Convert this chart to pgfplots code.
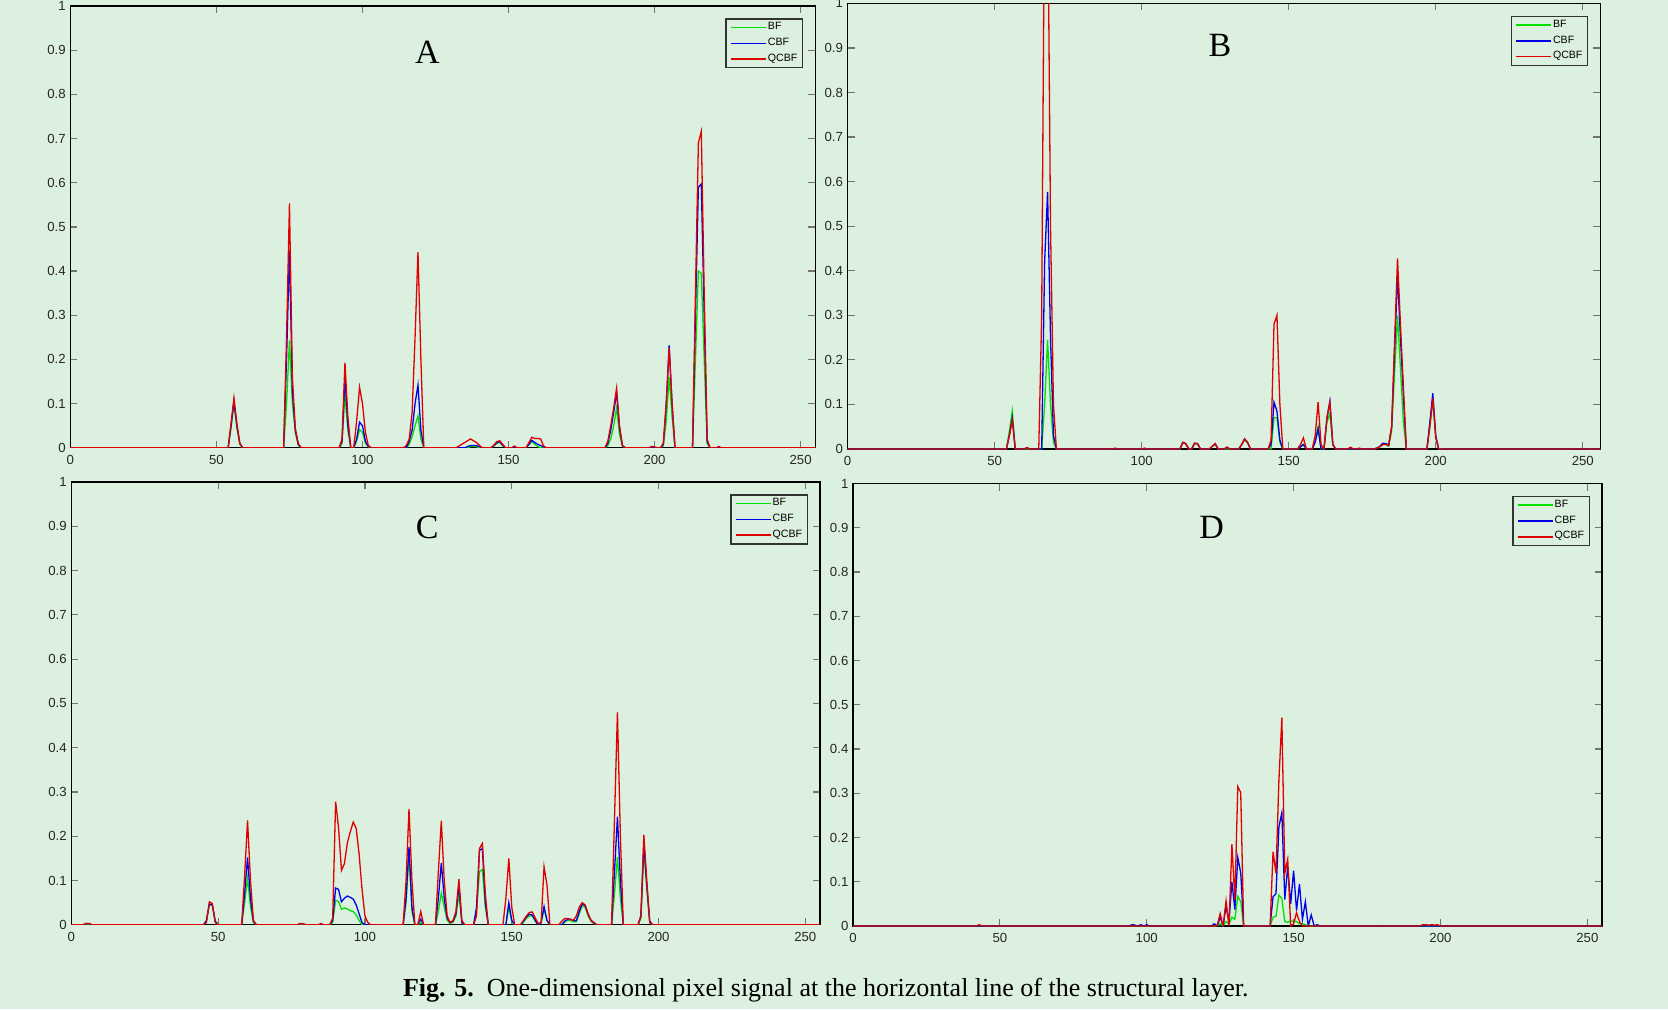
\documentclass[border=0pt]{standalone}
\usepackage{pgfplots}
\pgfplotsset{compat=1.18}
\usepackage{fontspec}
\setmainfont{Liberation Serif}
\newfontfamily\sansf{Liberation Sans}
\definecolor{bg}{RGB}{220,240,224}
\definecolor{cG}{RGB}{0,225,0}
\definecolor{cB}{RGB}{0,0,235}
\definecolor{cR}{RGB}{225,0,0}
\pgfplotsset{
  panel/.style={
    scale only axis, anchor=south west,
    xmin=0, xmax=255, ymin=0, ymax=1,
    xtick={0,50,100,150,200,250},
    ytick={0,0.1,0.2,0.3,0.4,0.5,0.6,0.7,0.8,0.9,1},
    yticklabels={0,0.1,0.2,0.3,0.4,0.5,0.6,0.7,0.8,0.9,1},
    tick align=inside, major tick length=3.5pt,
    tick style={draw=black!55, line width=0.6pt},
    axis line style={black, line width=0.6pt},
    tick label style={font=\sansf\fontsize{6.6}{7}\selectfont, text=black!85},
    yticklabel style={xshift=1.2pt},
    /pgf/number format/assume math mode=true,
    legend cell align=left,
    legend style={at={(rel axis cs:0.984,0.972)}, anchor=north east,
      draw=black!80, line width=0.7pt, fill=none,
      font=\sansf\fontsize{5.3}{5.3}\selectfont,
      inner xsep=2pt, inner ysep=1.1pt, row sep=1.5pt,
      nodes={inner sep=0.6pt}},
    legend image code/.code={\draw[##1, line width=0.8pt] (0pt,0pt) -- (17.5pt,0pt);},
    every axis plot/.append style={line width=0.65pt, mark=none},
  },
  gl/.style={cG}, bl/.style={cB}, rl/.style={cR},
}
\begin{document}
\begin{tikzpicture}
\fill[bg] (0,0) rectangle (834pt,504.5pt);
\useasboundingbox (0,0) rectangle (834pt,504.5pt);

% ---------------- A ----------------
\begin{axis}[panel, at={(35.2pt,280.6pt)}, width=372.4pt, height=220.9pt]
\addplot[gl] coordinates {(0,0)(54,0)(55,0.045)(56,0.1)(57,0.045)(58,0.008)(59,0)
(73,0)(74,0.1)(75,0.243)(76,0.1)(77,0.035)(78,0.006)(79,0)
(92,0)(93,0.01)(94,0.12)(95,0.04)(96,0)
(97,0)(98,0.015)(99,0.041)(100,0.035)(101,0.01)(102,0.002)(103,0)
(115,0)(116,0.008)(117,0.025)(118,0.05)(119,0.072)(120,0.02)(121,0)
(136,0)(137,0.003)(138,0.004)(139,0.003)(140,0)
(144,0)(145,0.004)(146,0.01)(147,0.012)(148,0.005)(149,0)
(156,0)(157,0.007)(158,0.015)(159,0.008)(160,0.003)(161,0)
(183,0)(184,0.005)(185,0.02)(186,0.05)(187,0.09)(188,0.03)(189,0.004)(190,0)
(202,0)(203,0.005)(204,0.06)(205,0.16)(206,0.07)(207,0)
(213,0)(214,0.2)(215,0.40)(216,0.395)(217,0.2)(218,0.01)(219,0)
(255,0)};
\addplot[bl] coordinates {(0,0)(54,0)(55,0.05)(56,0.105)(57,0.05)(58,0.01)(59,0)
(73,0)(74,0.2)(75,0.447)(76,0.13)(77,0.04)(78,0.008)(79,0)
(92,0)(93,0.015)(94,0.16)(95,0.05)(96,0)
(97,0)(98,0.02)(99,0.058)(100,0.05)(101,0.015)(102,0.003)(103,0)
(115,0)(116,0.015)(117,0.04)(118,0.1)(119,0.142)(120,0.04)(121,0)
(135,0)(136,0.003)(137,0.005)(138,0.005)(139,0.005)(140,0.003)(141,0)
(144,0)(145,0.005)(146,0.012)(147,0.014)(148,0.006)(149,0)
(156,0)(157,0.008)(158,0.017)(159,0.012)(160,0.008)(161,0.005)(162,0.002)(163,0)
(183,0)(184,0.01)(185,0.04)(186,0.08)(187,0.125)(188,0.045)(189,0.005)(190,0)
(202,0)(203,0.008)(204,0.1)(205,0.232)(206,0.1)(207,0)
(213,0)(214,0.3)(215,0.59)(216,0.597)(217,0.3)(218,0.015)(219,0)
(255,0)};
\addplot[rl] coordinates {(0,0)(54,0)(55,0.055)(56,0.113)(57,0.055)(58,0.01)(59,0)
(73,0)(74,0.25)(75,0.553)(76,0.16)(77,0.045)(78,0.01)(79,0)
(92,0)(93,0.02)(94,0.193)(95,0.07)(96,0)
(97,0)(98,0.06)(99,0.137)(100,0.1)(101,0.035)(102,0.005)(103,0)
(114,0)(115,0.005)(116,0.02)(117,0.08)(118,0.25)(119,0.443)(120,0.2)(121,0)
(132,0)(133,0.004)(134,0.008)(135,0.012)(136,0.016)(137,0.02)(138,0.016)(139,0.012)(140,0.006)(141,0)
(144,0)(145,0.006)(146,0.014)(147,0.016)(148,0.008)(149,0)
(151,0)(152,0.004)(153,0)
(156,0)(157,0.012)(158,0.024)(159,0.021)(160,0.021)(161,0.02)(162,0.004)(163,0)
(183,0)(184,0.015)(185,0.05)(186,0.09)(187,0.135)(188,0.05)(189,0.005)(190,0)
(198,0)(199,0.003)(200,0.002)(201,0)
(202,0)(203,0.01)(204,0.1)(205,0.225)(206,0.1)(207,0)
(213,0)(214,0.35)(215,0.69)(216,0.716)(217,0.35)(218,0.02)(219,0)
(221,0)(222,0.003)(223,0)
(255,0)};
\legend{BF,CBF,QCBF}
\node[font=\fontsize{17}{17}\selectfont] at (axis cs:122.2,0.895) {A};
\end{axis}

% ---------------- B ----------------
\begin{axis}[panel, at={(423.8pt,280.0pt)}, width=376.4pt, height=222.8pt, xmax=256]
\addplot[gl] coordinates {(0,0)(54,0)(55,0.04)(56,0.085)(57,0)
(66,0)(67,0.1)(68,0.245)(69,0.1)(70,0.015)(71,0)
(113,0)(114,0.014)(115,0.011)(116,0)
(117,0)(118,0.012)(119,0.011)(120,0)
(123,0)(124,0.006)(125,0.011)(126,0)
(133,0)(134,0.01)(135,0.02)(136,0.014)(137,0)
(144,0)(145,0.07)(146,0.07)(147,0.015)(148,0)
(153,0)(154,0.005)(155,0.01)(156,0)
(158,0)(159,0.02)(160,0.05)(161,0)
(162,0)(163,0.06)(164,0.08)(165,0.01)(166,0)
(179,0)(180,0.002)(181,0.005)(182,0.01)(183,0.01)(184,0.006)(185,0.04)(186,0.17)(187,0.30)(188,0.18)(189,0.06)(190,0)
(197,0)(198,0.05)(199,0.11)(200,0.025)(201,0)
(256,0)};
\addplot[bl] coordinates {(0,0)(54,0)(55,0.03)(56,0.07)(57,0)
(60,0)(61,0.003)(62,0)
(66,0)(67,0.42)(68,0.577)(69,0.25)(70,0.03)(71,0)
(113,0)(114,0.015)(115,0.012)(116,0)
(117,0)(118,0.013)(119,0.012)(120,0)
(123,0)(124,0.006)(125,0.012)(126,0)
(128,0)(129,0.004)(130,0)
(133,0)(134,0.01)(135,0.023)(136,0.015)(137,0)
(143,0)(144,0.01)(145,0.105)(146,0.085)(147,0.02)(148,0)
(153,0)(154,0.005)(155,0.01)(156,0)
(158,0)(159,0.015)(160,0.045)(161,0)
(162,0)(163,0.07)(164,0.107)(165,0.01)(166,0)
(179,0)(180,0.002)(181,0.006)(182,0.013)(183,0.012)(184,0.01)(185,0.05)(186,0.22)(187,0.39)(188,0.25)(189,0.12)(190,0)
(197,0)(198,0.06)(199,0.125)(200,0.03)(201,0)
(256,0)};
\addplot[rl] coordinates {(0,0)(54,0)(55,0.03)(56,0.065)(57,0)
(60,0)(61,0.003)(62,0)
(65,0)(66,0.3)(67,1.3)(68,1.3)(69,0.5)(70,0.1)(71,0)
(90,0)(91,0.002)(92,0)
(100,0)(101,0.002)(102,0)
(113,0)(114,0.015)(115,0.012)(116,0)
(117,0)(118,0.013)(119,0.012)(120,0)
(123,0)(124,0.006)(125,0.012)(126,0)
(128,0)(129,0.004)(130,0)
(133,0)(134,0.01)(135,0.022)(136,0.015)(137,0)
(143,0)(144,0.02)(145,0.28)(146,0.30)(147,0.1)(148,0)
(153,0)(154,0.01)(155,0.025)(156,0)
(158,0)(159,0.03)(160,0.105)(161,0.01)(162,0)
(163,0.07)(164,0.105)(165,0.01)(166,0)
(170,0)(171,0.004)(172,0)
(173,0)(174,0.002)(175,0)
(179,0)(180,0.002)(181,0.005)(182,0.01)(183,0.01)(184,0.008)(185,0.05)(186,0.24)(187,0.428)(188,0.28)(189,0.14)(190,0)
(197,0)(198,0.05)(199,0.115)(200,0.025)(201,0)
(256,0)};
\legend{BF,CBF,QCBF}
\node[font=\fontsize{17}{17}\selectfont] at (axis cs:126.6,0.906) {B};
\end{axis}

% ---------------- C ----------------
\begin{axis}[panel, at={(35.7pt,42.1pt)}, width=374.3pt, height=221.4pt]
\addplot[gl] coordinates {(0,0)(4,0)(5,0.002)(6,0.002)(7,0)
(45,0)(46,0.01)(47,0.045)(48,0.044)(49,0.008)(50,0)
(58,0)(59,0.05)(60,0.105)(61,0.04)(62,0.005)(63,0)
(88,0)(89,0.005)(90,0.055)(91,0.053)(92,0.035)(93,0.038)(94,0.036)(95,0.032)(96,0.03)(97,0.022)(98,0.01)(99,0)
(113,0)(114,0.05)(115,0.16)(116,0.03)(117,0)
(118,0)(119,0.005)(120,0)
(124,0)(125,0.03)(126,0.072)(127,0.04)(128,0.01)(129,0.003)(130,0.006)(131,0.02)(132,0.07)(133,0.005)(134,0)
(137,0)(138,0.03)(139,0.12)(140,0.125)(141,0.04)(142,0)
(148,0)(149,0.04)(150,0.008)(151,0)
(153,0)(154,0.006)(155,0.015)(156,0.02)(157,0.02)(158,0.008)(159,0)(160,0.005)(161,0.035)(162,0.01)(163,0)
(167,0)(168,0.006)(169,0.01)(170,0.01)(171,0.007)(172,0.007)(173,0.025)(174,0.043)(175,0.04)(176,0.02)(177,0.008)(178,0.003)(179,0)
(184,0)(185,0.07)(186,0.153)(187,0.06)(188,0)
(193,0)(194,0.015)(195,0.17)(196,0.08)(197,0.005)(198,0)
(255,0)};
\addplot[bl] coordinates {(0,0)(4,0)(5,0.003)(6,0.003)(7,0)
(45,0)(46,0.01)(47,0.047)(48,0.045)(49,0.008)(50,0)
(58,0)(59,0.07)(60,0.152)(61,0.06)(62,0.008)(63,0)
(77,0)(78,0.003)(79,0.002)(80,0)
(88,0)(89,0.01)(90,0.083)(91,0.08)(92,0.052)(93,0.06)(94,0.065)(95,0.062)(96,0.058)(97,0.045)(98,0.025)(99,0.005)(100,0)
(113,0)(114,0.06)(115,0.176)(116,0.04)(117,0)
(118,0)(119,0.013)(120,0)
(124,0)(125,0.06)(126,0.14)(127,0.06)(128,0.015)(129,0.005)(130,0.008)(131,0.025)(132,0.09)(133,0.005)(134,0)
(137,0)(138,0.04)(139,0.168)(140,0.172)(141,0.05)(142,0)
(148,0)(149,0.05)(150,0.01)(151,0)
(153,0)(154,0.008)(155,0.018)(156,0.024)(157,0.022)(158,0.01)(159,0)(160,0.005)(161,0.041)(162,0.01)(163,0)
(167,0)(168,0.008)(169,0.012)(170,0.013)(171,0.009)(172,0.009)(173,0.03)(174,0.048)(175,0.043)(176,0.024)(177,0.01)(178,0.004)(179,0)
(184,0)(185,0.12)(186,0.244)(187,0.1)(188,0)
(193,0)(194,0.02)(195,0.185)(196,0.09)(197,0.008)(198,0)
(255,0)};
\addplot[rl] coordinates {(0,0)(4,0)(5,0.003)(6,0.003)(7,0)
(45,0)(46,0.005)(47,0.052)(48,0.048)(49,0.005)(50,0)
(58,0)(59,0.11)(60,0.236)(61,0.1)(62,0.01)(63,0)
(77,0)(78,0.003)(79,0.002)(80,0)
(84,0)(85,0.003)(86,0)
(88,0)(89,0.015)(90,0.278)(91,0.22)(92,0.123)(93,0.138)(94,0.185)(95,0.21)(96,0.232)(97,0.218)(98,0.16)(99,0.08)(100,0.02)(101,0.005)(102,0)
(113,0)(114,0.1)(115,0.262)(116,0.1)(117,0)
(118,0)(119,0.03)(120,0)
(124,0)(125,0.12)(126,0.235)(127,0.1)(128,0.02)(129,0.005)(130,0.01)(131,0.03)(132,0.103)(133,0.01)(134,0)
(137,0)(138,0.02)(139,0.172)(140,0.184)(141,0.07)(142,0)
(147,0)(148,0.06)(149,0.15)(150,0.04)(151,0)
(153,0)(154,0.01)(155,0.02)(156,0.028)(157,0.029)(158,0.015)(159,0.003)(160,0.005)(161,0.131)(162,0.09)(163,0)
(166,0)(167,0.008)(168,0.014)(169,0.014)(170,0.012)(171,0.01)(172,0.02)(173,0.04)(174,0.05)(175,0.045)(176,0.025)(177,0.01)(178,0.005)(179,0)
(184,0)(185,0.24)(186,0.48)(187,0.2)(188,0)
(193,0)(194,0.02)(195,0.203)(196,0.1)(197,0.005)(198,0)
(255,0)};
\legend{BF,CBF,QCBF}
\node[font=\fontsize{17}{17}\selectfont] at (axis cs:121.2,0.898) {C};
\end{axis}

% ---------------- D ----------------
\begin{axis}[panel, at={(426.5pt,41.5pt)}, width=374.5pt, height=221.2pt]
\addplot[gl] coordinates {(0,0)(124,0)(125,0.005)(126,0)(127,0.01)(128,0.005)(129,0.02)(130,0.015)(131,0.067)(132,0.055)(133,0)
(142,0)(143,0.02)(144,0.022)(145,0.07)(146,0.062)(147,0.01)(148,0.008)(149,0.012)(150,0.01)(151,0.01)(152,0.005)(153,0.005)(154,0.003)(155,0)
(178,0)(179,0.001)(180,0)
(255,0)};
\addplot[bl] coordinates {(0,0)(94,0)(95,0.003)(96,0.002)(97,0)(98,0.003)(99,0)(100,0.003)(101,0)
(122,0)(123,0.005)(124,0)(125,0.02)(126,0)(127,0.045)(128,0.01)(129,0.1)(130,0.037)(131,0.155)(132,0.12)(133,0)
(142,0)(143,0.066)(144,0.073)(145,0.224)(146,0.256)(147,0.06)(148,0.135)(149,0.05)(150,0.125)(151,0.035)(152,0.095)(153,0.015)(154,0.055)(155,0)(156,0.025)(157,0)(158,0.003)(159,0)
(255,0)};
\addplot[rl] coordinates {(0,0)(42,0)(43,0.003)(44,0)
(123,0)(124,0.002)(125,0.028)(126,0)(127,0.057)(128,0)(129,0.185)(130,0.059)(131,0.315)(132,0.302)(133,0)
(142,0)(143,0.168)(144,0.119)(145,0.33)(146,0.471)(147,0.119)(148,0.151)(149,0)(150,0.005)(151,0.03)(152,0.01)(153,0)
(193,0)(194,0.003)(195,0.003)(196,0.002)(197,0.003)(198,0.002)(199,0.003)(200,0)
(255,0)};
\legend{BF,CBF,QCBF}
\node[font=\fontsize{17}{17}\selectfont] at (axis cs:122.1,0.902) {D};
\end{axis}

\node[anchor=base, font=\fontsize{13}{15}\selectfont] at (412.9pt,6.2pt)
  {\textbf{Fig. 5.}\enspace One-dimensional pixel signal at the horizontal line of the structural layer.};
\end{tikzpicture}
\end{document}
